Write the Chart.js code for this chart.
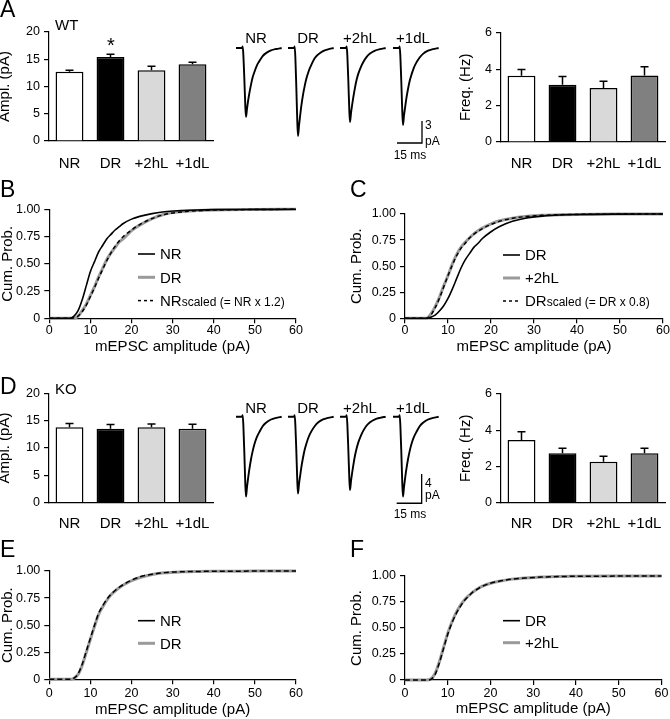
<!DOCTYPE html>
<html><head><meta charset="utf-8">
<script src="https://cdn.jsdelivr.net/npm/chart.js@4.4.1/dist/chart.umd.min.js"></script>
<style>
html,body{margin:0;padding:0;background:#fff;}
body{width:670px;height:719px;position:relative;overflow:hidden;font-family:"Liberation Sans",Arial,Helvetica,sans-serif;color:#000;}
canvas{position:absolute;}
.t{position:absolute;line-height:1;white-space:nowrap;}
</style></head><body>
<script>
// ---------------- DATA ----------------
const groups = ['NR', 'DR', '+2hL', '+1dL'];
const ampWT = [12.7, 15.4, 13.0, 14.1];
const ampWTerr = [0.3, 0.5, 0.7, 0.35];
const freqWT = [3.64, 3.14, 2.97, 3.65];
const freqWTerr = [0.34, 0.46, 0.37, 0.48];
const ampKO = [13.8, 13.5, 13.8, 13.5];
const ampKOerr = [0.7, 0.8, 0.6, 0.85];
const freqKO = [3.46, 2.73, 2.26, 2.73];
const freqKOerr = [0.46, 0.28, 0.31, 0.28];

const cumYTickLabels = ['0', '0.25', '0.50', '0.75', '1.00'];
const cumX = [0, 5, 6, 7, 8, 9, 10, 11, 12, 13, 14, 15, 16, 17, 18, 20, 22, 25, 28, 32, 36, 40, 50, 60];
const cumB_NR  = [0, 0, 0.02, 0.07, 0.17, 0.30, 0.43, 0.52, 0.61, 0.67, 0.73, 0.77, 0.81, 0.84, 0.87, 0.91, 0.935, 0.96, 0.978, 0.988, 0.994, 0.997, 0.999, 1];
const cumB_DR  = [0, 0, 0, 0.02, 0.07, 0.13, 0.21, 0.29, 0.38, 0.46, 0.54, 0.60, 0.65, 0.70, 0.73, 0.805, 0.855, 0.915, 0.955, 0.978, 0.988, 0.994, 0.998, 1];
const cumB_NRs = [0, 0, 0.005, 0.02, 0.06, 0.12, 0.20, 0.28, 0.37, 0.45, 0.53, 0.60, 0.66, 0.71, 0.75, 0.81, 0.86, 0.915, 0.952, 0.975, 0.987, 0.993, 0.998, 1];
const cumC_DR  = [0, 0, 0.01, 0.03, 0.07, 0.12, 0.19, 0.28, 0.38, 0.48, 0.56, 0.62, 0.68, 0.72, 0.765, 0.83, 0.88, 0.93, 0.96, 0.98, 0.99, 0.995, 0.999, 1];
const cumC_2hL = [0, 0, 0.04, 0.11, 0.20, 0.31, 0.41, 0.52, 0.61, 0.68, 0.73, 0.77, 0.81, 0.84, 0.865, 0.905, 0.935, 0.96, 0.975, 0.987, 0.993, 0.996, 0.999, 1];
const cumC_DRs = [0, 0, 0.03, 0.10, 0.19, 0.30, 0.41, 0.51, 0.60, 0.67, 0.72, 0.77, 0.805, 0.835, 0.86, 0.90, 0.93, 0.96, 0.975, 0.987, 0.993, 0.996, 0.999, 1];
const cumE_NR  = [0, 0, 0.01, 0.05, 0.14, 0.26, 0.38, 0.50, 0.61, 0.68, 0.74, 0.785, 0.82, 0.85, 0.875, 0.915, 0.945, 0.97, 0.985, 0.993, 0.996, 0.998, 0.999, 1];
const cumE_DR  = [0, 0, 0.01, 0.045, 0.13, 0.25, 0.37, 0.49, 0.60, 0.67, 0.73, 0.78, 0.815, 0.845, 0.87, 0.91, 0.94, 0.968, 0.983, 0.992, 0.996, 0.998, 0.999, 1];
const cumF_DR  = [0, 0, 0.005, 0.05, 0.16, 0.30, 0.44, 0.55, 0.64, 0.71, 0.77, 0.81, 0.85, 0.875, 0.90, 0.93, 0.95, 0.97, 0.98, 0.99, 0.995, 0.997, 0.999, 1];
const cumF_2hL = [0, 0, 0.008, 0.06, 0.17, 0.31, 0.45, 0.56, 0.65, 0.72, 0.775, 0.815, 0.85, 0.878, 0.90, 0.93, 0.95, 0.97, 0.98, 0.99, 0.995, 0.997, 0.999, 1];

// averaged mEPSC traces (time in ms, current in pA)
const traceT = [0, 3.6, 4.0, 4.4, 5.0, 5.6, 6.0, 6.6, 7.2, 8.0, 9.0, 10, 11, 12.5, 14, 16, 18, 21, 24, 27.4];
const trA_NR  = [0, 0, 0.2, -0.9, -4.2, -8.0, -9.4, -8.3, -7.3, -6.2, -5.0, -4.0, -3.3, -2.4, -1.8, -1.1, -0.7, -0.33, -0.14, 0];
const trA_DR  = [0, 0, 0.2, -1.2, -5.4, -10.2, -12.0, -10.6, -9.4, -7.9, -6.4, -5.2, -4.2, -3.1, -2.3, -1.4, -0.9, -0.42, -0.18, 0];
const trA_2hL = [0, 0, 0.2, -1.0, -4.5, -8.6, -10.1, -8.9, -7.9, -6.7, -5.4, -4.3, -3.5, -2.6, -1.9, -1.2, -0.76, -0.35, -0.15, 0];
const trA_1dL = [0, 0, 0.2, -1.05, -4.7, -8.9, -10.5, -9.2, -8.2, -6.9, -5.6, -4.5, -3.7, -2.7, -2.0, -1.3, -0.8, -0.37, -0.16, 0];
const trD_NR  = [0, 0, 0.2, -1.1, -4.9, -9.3, -10.9, -9.6, -8.5, -7.2, -5.8, -4.7, -3.8, -2.8, -2.1, -1.3, -0.82, -0.38, -0.16, 0];
const trD_DR  = [0, 0, 0.2, -1.05, -4.7, -8.9, -10.5, -9.2, -8.2, -6.9, -5.6, -4.5, -3.7, -2.7, -2.0, -1.3, -0.8, -0.37, -0.16, 0];
const trD_2hL = [0, 0, 0.2, -1.0, -4.5, -8.5, -10.0, -8.8, -7.8, -6.6, -5.3, -4.3, -3.5, -2.6, -1.9, -1.2, -0.75, -0.35, -0.15, 0];
const trD_1dL = [0, 0, 0.2, -1.1, -4.9, -9.3, -10.9, -9.6, -8.5, -7.2, -5.8, -4.7, -3.8, -2.8, -2.1, -1.3, -0.82, -0.38, -0.16, 0];

// ---------------- STYLE / LAYOUT ----------------
const FONT = '"Liberation Sans", Arial, Helvetica, sans-serif';
Chart.defaults.font.family = FONT;
Chart.defaults.color = '#000';
const barColors = ['#ffffff', '#000000', '#d9d9d9', '#808080'];
const GREY = '#9a9a9a';
const AXW = 1.2;

function mk(box) {
  const c = document.createElement('canvas');
  c.width = box.w; c.height = box.h;
  c.style.left = box.x + 'px'; c.style.top = box.y + 'px';
  c.style.width = box.w + 'px'; c.style.height = box.h + 'px';
  document.body.appendChild(c);
  return c;
}
function addText(t, x, cy, size, align, k) {
  const d = document.createElement('div');
  d.className = 't';
  d.textContent = t;
  d.style.fontSize = size + 'px';
  d.style.top = (cy - (k || 0.49) * size) + 'px';
  d.style.left = x + 'px';
  if (align === 'center') d.style.transform = 'translateX(-50%)';
  document.body.appendChild(d);
}

const errPlugin = {
  id: 'errbars',
  afterDatasetsDraw(chart, args, o) {
    if (!o || !o.err) return;
    const ctx = chart.ctx, meta = chart.getDatasetMeta(0), ys = chart.scales.y;
    const vals = chart.data.datasets[0].data;
    ctx.save(); ctx.strokeStyle = '#000'; ctx.lineWidth = 1.5;
    meta.data.forEach((bar, i) => {
      const top = ys.getPixelForValue(vals[i] + o.err[i]);
      ctx.beginPath();
      ctx.moveTo(bar.x, bar.y); ctx.lineTo(bar.x, top);
      ctx.moveTo(bar.x - 4, top); ctx.lineTo(bar.x + 4, top);
      ctx.stroke();
    });
    ctx.restore();
  }
};

const legendPlugin = {
  id: 'cumLegend',
  afterDraw(chart, args, o) {
    if (!o || !o.items) return;
    const ctx = chart.ctx, a = chart.chartArea;
    ctx.save();
    o.items.forEach((it, i) => {
      const y = a.top + o.y + i * o.dy;
      const x0 = a.left + o.x;
      ctx.beginPath();
      ctx.setLineDash(it.dash || []);
      ctx.strokeStyle = it.color; ctx.lineWidth = it.width;
      ctx.moveTo(x0, y); ctx.lineTo(x0 + o.len, y); ctx.stroke();
      ctx.setLineDash([]);
      ctx.fillStyle = '#000'; ctx.textBaseline = 'alphabetic'; ctx.textAlign = 'left';
      ctx.font = '15px ' + FONT;
      let tx = x0 + o.len + o.gap;
      const base = y + 5.4;
      ctx.fillText(it.label, tx, base);
      if (it.sub) {
        tx += ctx.measureText(it.label).width;
        ctx.font = '12px ' + FONT;
        ctx.fillText(it.sub, tx, base);
      }
    });
    ctx.restore();
  }
};

function yAxisCommon(box, area, min, max, step, title, cb) {
  return {
    min: min, max: max,
    ticks: { stepSize: step, font: { size: 12.5 }, padding: 4, callback: cb },
    grid: { display: true, drawOnChartArea: false, drawTicks: true, tickLength: 5, color: '#000', lineWidth: AXW },
    border: { display: true, color: '#000', width: AXW },
    title: { display: true, text: title, font: { size: 15 }, padding: { top: 0, bottom: 0 } },
    afterFit: s => { s.width = area.l - box.x; }
  };
}

function barChart(box, area, vals, errs, yMax, yStep, yTitle, labelCY) {
  const c = mk(box);
  new Chart(c, {
    type: 'bar',
    data: { labels: groups, datasets: [{ data: vals, backgroundColor: barColors, borderColor: '#000', borderWidth: 1.5, barPercentage: 0.68, categoryPercentage: 1 }] },
    options: {
      responsive: false, animation: false, devicePixelRatio: 1,
      layout: { padding: { left: 0, top: area.t - box.y, right: box.x + box.w - area.r, bottom: 0 } },
      plugins: { legend: { display: false }, tooltip: { enabled: false }, errbars: { err: errs } },
      scales: {
        x: {
          grid: { display: false }, border: { display: true, color: '#000', width: AXW },
          ticks: { font: { size: 15 }, padding: labelCY - area.b - 9, autoSkip: false, maxRotation: 0 },
          afterFit: s => { s.height = box.y + box.h - area.b; }
        },
        y: yAxisCommon(box, area, 0, yMax, yStep, yTitle)
      }
    },
    plugins: [errPlugin]
  });
}

function cumChart(box, area, sets, legend, labelCY, titleCY) {
  const c = mk(box);
  new Chart(c, {
    type: 'line',
    data: { datasets: sets.map(s => ({
      data: cumX.map((x, i) => ({ x: x, y: s.y[i] })),
      borderColor: s.color, borderWidth: s.width, borderDash: s.dash || [],
      pointRadius: 0, cubicInterpolationMode: 'monotone', fill: false, clip: 4
    })) },
    options: {
      responsive: false, animation: false, devicePixelRatio: 1,
      layout: { padding: { left: 0, top: area.t - box.y, right: box.x + box.w - area.r, bottom: 0 } },
      plugins: { legend: { display: false }, tooltip: { enabled: false }, cumLegend: legend },
      scales: {
        x: {
          type: 'linear', min: 0, max: 60,
          ticks: { stepSize: 10, font: { size: 12.5 }, padding: Math.max(0, labelCY - area.b - 5 - 7.5), maxRotation: 0 },
          grid: { display: true, drawOnChartArea: false, drawTicks: true, tickLength: 5, color: '#000', lineWidth: AXW },
          border: { display: true, color: '#000', width: AXW },
          title: { display: true, text: 'mEPSC amplitude (pA)', font: { size: 15 }, padding: { top: 0, bottom: Math.max(0, box.y + box.h - titleCY - 9) } },
          afterFit: s => { s.height = box.y + box.h - area.b; }
        },
        y: yAxisCommon(box, area, 0, 1, 0.25, 'Cum. Prob.', (v, i) => cumYTickLabels[i])
      }
    },
    plugins: [legendPlugin]
  });
}

function traceChart(box, traces, baseY, startX, sb) {
  const msPerPx = 0.6, pxPerPA = 7.33;
  const xmin = -(startX - box.x) * msPerPx, xmax = xmin + box.w * msPerPx;
  const ymax = (baseY - box.y) / pxPerPA, ymin = ymax - box.h / pxPerPA;
  const offs = [0, 31.2, 62.4, 94.2];
  const ds = traces.map((tr, k) => ({
    data: traceT.map((t, i) => ({ x: t + offs[k], y: tr[i] })),
    borderColor: '#000', borderWidth: 1.9, pointRadius: 0, cubicInterpolationMode: 'monotone', fill: false
  }));
  ds.push({
    data: [{ x: sb.t0, y: sb.v0 }, { x: sb.t0 + sb.ms, y: sb.v0 }, { x: sb.t0 + sb.ms, y: sb.v0 + sb.pa }],
    borderColor: '#000', borderWidth: 1.3, pointRadius: 0, tension: 0, fill: false
  });
  const c = mk(box);
  new Chart(c, {
    type: 'line',
    data: { datasets: ds },
    options: {
      responsive: false, animation: false, devicePixelRatio: 1,
      layout: { padding: 0 },
      plugins: { legend: { display: false }, tooltip: { enabled: false } },
      scales: {
        x: { type: 'linear', min: xmin, max: xmax, display: false },
        y: { min: ymin, max: ymax, display: false }
      }
    }
  });
}

// ---------------- PANELS ----------------
barChart({ x: -4, y: 0, w: 234, h: 170 }, { l: 49, t: 32, r: 213, b: 141 }, ampWT, ampWTerr, 20, 5, 'Ampl. (pA)', 156);
barChart({ x: 457, y: 0, w: 213, h: 170 }, { l: 501, t: 32.7, r: 665, b: 142 }, freqWT, freqWTerr, 6, 2, 'Freq. (Hz)', 156);
barChart({ x: -4, y: 360, w: 234, h: 170 }, { l: 49, t: 393.3, r: 213, b: 502.7 }, ampKO, ampKOerr, 20, 5, 'Ampl. (pA)', 516);
barChart({ x: 457, y: 360, w: 213, h: 170 }, { l: 501, t: 394, r: 665, b: 502.7 }, freqKO, freqKOerr, 6, 2, 'Freq. (Hz)', 516);

traceChart({ x: 230, y: 0, w: 220, h: 170 }, [trA_NR, trA_DR, trA_2hL, trA_1dL], 48, 236, { t0: 96.6, v0: -12.96, ms: 15, pa: 3 });
traceChart({ x: 230, y: 370, w: 220, h: 150 }, [trD_NR, trD_DR, trD_2hL, trD_1dL], 416.7, 236, { t0: 96.4, v0: -11.81, ms: 15, pa: 4 });

cumChart({ x: -1, y: 180, w: 321, h: 180 }, { l: 49.3, t: 209.3, r: 296, b: 318.3 }, [
  { y: cumB_NRs, color: '#000', width: 1.5, dash: [4, 3] },
  { y: cumB_NR, color: '#000', width: 1.6 },
  { y: cumB_DR, color: GREY, width: 3 }
], { x: 88.7, y: 44.7, dy: 23.3, len: 17, gap: 5, items: [
  { label: 'NR', color: '#000', width: 1.6 },
  { label: 'DR', color: GREY, width: 3 },
  { label: 'NR', sub: 'scaled (= NR x 1.2)', color: '#000', width: 1.5, dash: [3, 3] }
] }, 330, 347);

cumChart({ x: 348, y: 180, w: 322, h: 180 }, { l: 405, t: 214, r: 663, b: 318.3 }, [
  { y: cumC_DRs, color: '#000', width: 1.5, dash: [4, 3] },
  { y: cumC_DR, color: '#000', width: 1.6 },
  { y: cumC_2hL, color: GREY, width: 3 }
], { x: 98, y: 41, dy: 23, len: 17, gap: 5, items: [
  { label: 'DR', color: '#000', width: 1.6 },
  { label: '+2hL', color: GREY, width: 3 },
  { label: 'DR', sub: 'scaled (= DR x 0.8)', color: '#000', width: 1.5, dash: [3, 3] }
] }, 328.3, 347);

cumChart({ x: -1, y: 540, w: 321, h: 179 }, { l: 49.3, t: 571, r: 296, b: 679.3 }, [
  { y: cumE_NR, color: '#000', width: 1.5, dash: [5, 3] },
  { y: cumE_DR, color: GREY, width: 3 }
], { x: 88.7, y: 49.7, dy: 22.6, len: 17, gap: 5, items: [
  { label: 'NR', color: '#000', width: 1.6 },
  { label: 'DR', color: GREY, width: 3 }
] }, 694, 710);

cumChart({ x: 348, y: 540, w: 322, h: 179 }, { l: 405, t: 576, r: 663, b: 680 }, [
  { y: cumF_DR, color: '#000', width: 1.5, dash: [5, 3] },
  { y: cumF_2hL, color: GREY, width: 3 }
], { x: 98, y: 44.7, dy: 22, len: 17, gap: 5, items: [
  { label: 'DR', color: '#000', width: 1.6 },
  { label: '+2hL', color: GREY, width: 3 }
] }, 694, 709);

// ---------------- TEXT ----------------
addText('A', 0, 9, 23);
addText('B', 0, 189.5, 23);
addText('C', 350, 189.5, 23);
addText('D', 0, 386.5, 23);
addText('E', 0, 549.5, 23);
addText('F', 350, 549.5, 23);
addText('WT', 55, 24, 15);
addText('KO', 55, 388, 15);
addText('*', 111, 41, 20, 'center', 0.28);
const traceLabelX = [256, 308, 360, 413];
groups.forEach((g, i) => { addText(g, traceLabelX[i], 37, 15, 'center'); addText(g, traceLabelX[i], 407, 15, 'center'); });
addText('3', 425, 125, 12);
addText('pA', 425, 141, 12);
addText('15 ms', 410, 155, 12, 'center');
addText('4', 425, 482.5, 12);
addText('pA', 425, 494.5, 12);
addText('15 ms', 410, 514, 12, 'center');
</script>
</body></html>
